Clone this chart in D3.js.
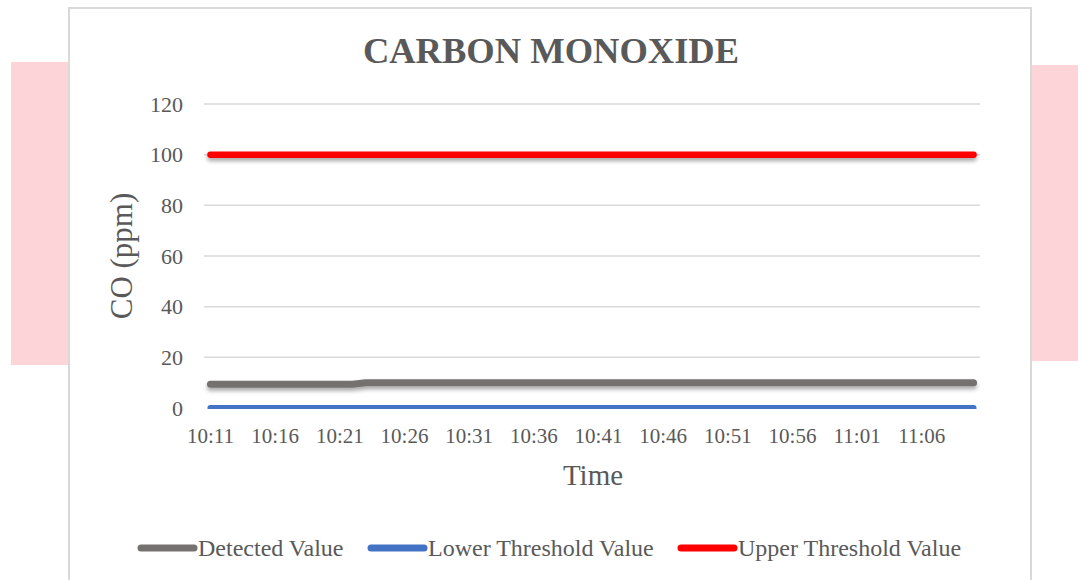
<!DOCTYPE html>
<html><head><meta charset="utf-8">
<script src="https://cdn.jsdelivr.net/npm/d3@7"></script>
<style>html,body{margin:0;padding:0;background:#fff;}svg{display:block;}</style>
</head><body>
<svg id="chart" width="1078" height="580"></svg>
<script>
// ---- data ----
const times = ["10:11","10:12","10:13","10:14","10:15","10:16","10:17","10:18","10:19","10:20",
  "10:21","10:22","10:23","10:24","10:25","10:26","10:27","10:28","10:29","10:30",
  "10:31","10:32","10:33","10:34","10:35","10:36","10:37","10:38","10:39","10:40",
  "10:41","10:42","10:43","10:44","10:45","10:46","10:47","10:48","10:49","10:50",
  "10:51","10:52","10:53","10:54","10:55","10:56","10:57","10:58","10:59","11:00",
  "11:01","11:02","11:03","11:04","11:05","11:06","11:07","11:08","11:09","11:10"];
const tickLabels = ["10:11","10:16","10:21","10:26","10:31","10:36","10:41","10:46","10:51","10:56","11:01","11:06"];
const detected = [9.4,9.4,9.4,9.4,9.4,9.4,9.4,9.4,9.4,9.4,9.4,9.4,
  10,10,10,10,10,10,10,10,10,10,10,10,10,10,10,10,10,10,10,10,10,10,10,10,
  10,10,10,10,10,10,10,10,10,10,10,10,10,10,10,10,10,10,10,10,10,10,10,10];
const lowerThreshold = [0,0,0,0,0,0,0,0,0,0,0,0,0,0,0,0,0,0,0,0,0,0,0,0,0,0,0,0,0,0,
  0,0,0,0,0,0,0,0,0,0,0,0,0,0,0,0,0,0,0,0,0,0,0,0,0,0,0,0,0,0];
const upperThreshold = [100,100,100,100,100,100,100,100,100,100,100,100,100,100,100,100,100,100,100,100,
  100,100,100,100,100,100,100,100,100,100,100,100,100,100,100,100,100,100,100,100,
  100,100,100,100,100,100,100,100,100,100,100,100,100,100,100,100,100,100,100,100];
const yTicks = [0,20,40,60,80,100,120];
const seriesNames = ["Detected Value","Lower Threshold Value","Upper Threshold Value"];
const seriesColors = ["#767171","#4472c4","#ff0000"];

// ---- layout ----
const svg = d3.select("#chart");
const txt = "#595959";
const font = "'Liberation Serif','Times New Roman',serif";
const plot = {left:204, right:980, top:104, bottom:408};

// pink background bands
svg.append("rect").attr("x",11).attr("y",62).attr("width",58).attr("height",303).attr("fill","#fdd5d8");
svg.append("rect").attr("x",1031).attr("y",65).attr("width",47).attr("height",296).attr("fill","#fdd5d8");

// chart box
svg.append("rect").attr("x",69).attr("y",8).attr("width",962).attr("height",600)
  .attr("fill","#fff").attr("stroke","#d9d9d9").attr("stroke-width",2);

const defs = svg.append("defs");
const f = defs.append("filter").attr("id","shadow").attr("filterUnits","userSpaceOnUse")
  .attr("x",0).attr("y",0).attr("width",1078).attr("height",580);
f.append("feDropShadow").attr("dx",0).attr("dy",3).attr("stdDeviation",2.2).attr("flood-color","#000").attr("flood-opacity",0.35);
defs.append("clipPath").attr("id","clip").append("rect")
  .attr("x",plot.left-10).attr("y",plot.top-10).attr("width",plot.right-plot.left+20).attr("height",plot.bottom-plot.top+11);

const x = d3.scaleBand().domain(times).range([plot.left, plot.right]).paddingInner(0).paddingOuter(0);
const y = d3.scaleLinear().domain([0,120]).range([plot.bottom, plot.top]);

// gridlines
svg.append("g").selectAll("line").data(yTicks.filter(d=>d>0)).join("line")
  .attr("x1",plot.left).attr("x2",plot.right)
  .attr("y1",d=>y(d)).attr("y2",d=>y(d))
  .attr("stroke","#d9d9d9").attr("stroke-width",1.5);

// y axis labels
const yAxis = d3.axisLeft(y).tickValues(yTicks).tickSize(0).tickPadding(0);
const gy = svg.append("g").attr("transform",`translate(183,0)`).call(yAxis);
gy.select(".domain").remove();
gy.selectAll("text").attr("fill",txt).style("font-family",font).style("font-size","22px").attr("dy","0.33em");

// x axis labels
const xAxis = d3.axisBottom(x).tickValues(tickLabels).tickSize(0).tickPadding(0);
const gx = svg.append("g").attr("transform",`translate(0,${plot.bottom})`).call(xAxis);
gx.select(".domain").remove();
gx.selectAll("text").attr("fill",txt).style("font-family",font).style("font-size","21px").attr("dy","35px").attr("y",0);

// lines
const cx = d => x(d) + x.bandwidth()/2;
const series = [detected, lowerThreshold, upperThreshold];
const widths = [7,6,6.5];
const line = d3.line().x((d,i)=>cx(times[i])).y(d=>y(d));
const gl = svg.append("g").attr("clip-path","url(#clip)");
series.forEach((s,k)=>{
  gl.append("path").datum(s).attr("d",line)
    .attr("fill","none").attr("stroke",seriesColors[k]).attr("stroke-width",widths[k])
    .attr("stroke-linecap","round").attr("stroke-linejoin","round")
    .attr("filter", k===1 ? null : "url(#shadow)");
});

// title
svg.append("text").attr("x",551).attr("y",63).attr("text-anchor","middle")
  .attr("fill",txt).style("font-family",font).style("font-size","36.5px").style("font-weight","bold")
  .text("CARBON MONOXIDE");

// axis titles
svg.append("text").attr("transform","translate(132,256) rotate(-90)").attr("text-anchor","middle")
  .attr("fill",txt).style("font-family",font).style("font-size","31px").text("CO (ppm)");
svg.append("text").attr("x",593).attr("y",485).attr("text-anchor","middle")
  .attr("fill",txt).style("font-family",font).style("font-size","29px").text("Time");

// legend
const legendX = [138,368,678];
const lg = svg.append("g");
seriesNames.forEach((n,k)=>{
  lg.append("line").attr("x1",legendX[k]+3).attr("x2",legendX[k]+56).attr("y1",548).attr("y2",548)
    .attr("stroke",seriesColors[k]).attr("stroke-width",7).attr("stroke-linecap","round");
  lg.append("text").attr("x",legendX[k]+60).attr("y",556)
    .attr("fill",txt).style("font-family",font).style("font-size","24px").text(n);
});
</script>
</body></html>
